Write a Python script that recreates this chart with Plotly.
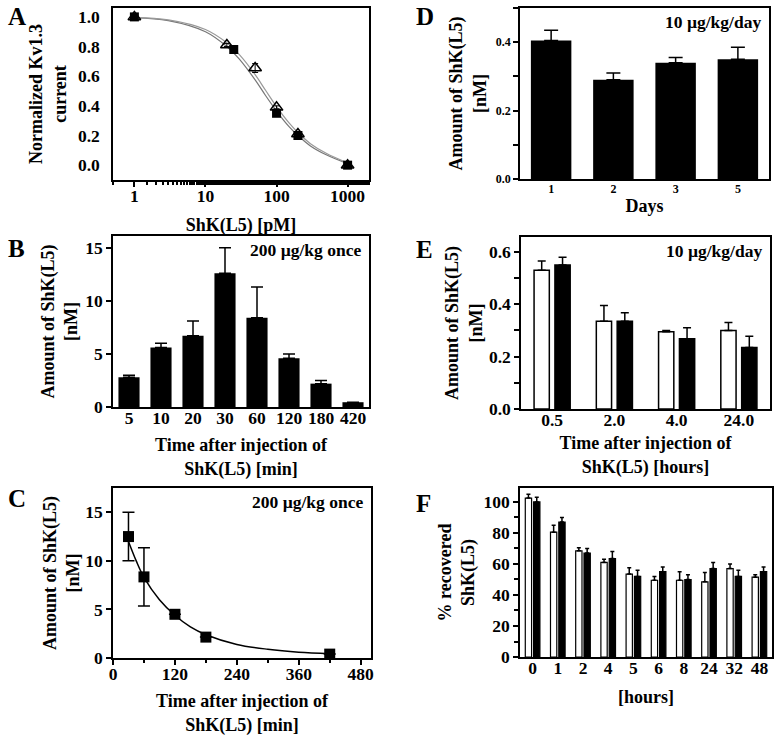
import plotly.graph_objects as go

FONT = "Liberation Serif"

# panel A: concentration-response
a_conc_sq = [1, 25, 100, 200, 1000]
a_resp_sq = [1.0, 0.78, 0.35, 0.20, 0.0]
a_err_sq = [0.0, 0.02, 0.02, 0.01, 0.0]
a_conc_tri = [1, 20, 50, 100, 200, 1000]
a_resp_tri = [1.0, 0.81, 0.655, 0.39, 0.21, 0.0]
a_err_tri = [0.0, 0.01, 0.03, 0.01, 0.01, 0.0]
a_fit_x = [1, 3, 10, 20, 30, 50, 70, 100, 150, 200, 300, 500, 1000]
a_fit1_y = [0.993, 0.975, 0.90, 0.80, 0.715, 0.575, 0.47, 0.365, 0.26, 0.20, 0.13, 0.07, 0.01]
a_fit2_y = [0.995, 0.98, 0.915, 0.825, 0.745, 0.61, 0.505, 0.395, 0.285, 0.22, 0.145, 0.08, 0.015]

# panel B: 200 ug/kg once, bars
b_times = ["5", "10", "20", "30", "60", "120", "180", "420"]
b_mean = [2.8, 5.6, 6.7, 12.6, 8.4, 4.6, 2.2, 0.45]
b_err = [0.2, 0.4, 1.4, 2.4, 2.9, 0.4, 0.3, 0.0]

# panel C: decay
c_time = [30, 60, 120, 180, 420]
c_mean = [12.5, 8.35, 4.5, 2.15, 0.4]
c_err = [2.5, 3.0, 0.0, 0.0, 0.0]
c_fit_x = [30, 45, 60, 90, 120, 150, 180, 240, 300, 360, 420]
c_fit_y = [12.0, 10.0, 8.3, 6.0, 4.4, 3.2, 2.4, 1.4, 0.9, 0.6, 0.45]

# panel D: 10 ug/kg/day by day
d_days = ["1", "2", "3", "5"]
d_mean = [0.405, 0.29, 0.34, 0.35]
d_err = [0.03, 0.02, 0.015, 0.035]

# panel E: 10 ug/kg/day by hours
e_hours = ["0.5", "2.0", "4.0", "24.0"]
e_open = [0.53, 0.335, 0.295, 0.30]
e_open_err = [0.035, 0.06, 0.005, 0.03]
e_filled = [0.55, 0.335, 0.268, 0.235]
e_filled_err = [0.03, 0.033, 0.042, 0.043]

# panel F: % recovered
f_hours = ["0", "1", "2", "4", "5", "6", "8", "24", "32", "48"]
f_open = [102.5, 80.5, 68.5, 61, 53.5, 49.5, 49.5, 48.5, 57, 51.5]
f_open_err = [2.5, 4.5, 2, 2, 4, 2.5, 5.5, 6, 3, 1.5]
f_filled = [100, 87, 67, 63.5, 52, 55, 50, 57, 52, 55]
f_filled_err = [3, 3, 3, 4.5, 4, 3, 3, 4, 4, 3]

W, H = 784, 738
TICK = 17.5
TITLE = 18


def px_x(a, b):
    return [a / W, b / W]


def px_y(top, bottom):
    return [1 - bottom / H, 1 - top / H]


def bold(size):
    return dict(family=FONT, size=size, color="black", weight="bold")


def axis(**kw):
    base = dict(showline=True, linecolor="black", linewidth=1.5, mirror=True, automargin=False,
                ticks="outside", ticklen=5, tickwidth=1.5, tickcolor="black",
                showgrid=False, zeroline=False, tickfont=bold(TICK),
                title=dict(font=bold(TITLE)))
    base.update(kw)
    return base


def xaxis(**kw):
    kw.setdefault("ticklabelstandoff", -6)
    return axis(**kw)


def title(text, standoff):
    return dict(text=text, font=bold(TITLE), standoff=standoff)


def up_err(err, width=4):
    return dict(type="data", symmetric=False, array=err, arrayminus=[0] * len(err),
                color="black", thickness=1.5, width=width)


fig = go.Figure()

# A
fig.add_trace(go.Scatter(x=a_fit_x, y=a_fit1_y, mode="lines", line=dict(color="#777", width=1.2, shape="spline"),
                         xaxis="x", yaxis="y"))
fig.add_trace(go.Scatter(x=a_fit_x, y=a_fit2_y, mode="lines", line=dict(color="#999", width=1.2, shape="spline"),
                         xaxis="x", yaxis="y"))
fig.add_trace(go.Scatter(x=a_conc_sq, y=a_resp_sq, mode="markers",
                         marker=dict(symbol="square", size=9, color="black"),
                         error_y=dict(type="data", array=a_err_sq, color="black", thickness=1, width=3),
                         xaxis="x", yaxis="y"))
fig.add_trace(go.Scatter(x=a_conc_tri, y=a_resp_tri, mode="markers",
                         marker=dict(symbol="triangle-up-open", size=11, color="black", line=dict(width=1.5)),
                         error_y=dict(type="data", array=a_err_tri, color="black", thickness=1, width=3),
                         xaxis="x", yaxis="y"))

# B
fig.add_trace(go.Bar(x=b_times, y=b_mean, width=0.66, marker=dict(color="black", line=dict(width=0)),
                     error_y=up_err(b_err, 6), xaxis="x2", yaxis="y2"))

# C
fig.add_trace(go.Scatter(x=c_fit_x, y=c_fit_y, mode="lines", line=dict(color="black", width=1.5, shape="spline"),
                         xaxis="x3", yaxis="y3"))
fig.add_trace(go.Scatter(x=c_time, y=c_mean, mode="markers",
                         marker=dict(symbol="square", size=11, color="black"),
                         error_y=dict(type="data", array=c_err, color="black", thickness=1.5, width=6),
                         xaxis="x3", yaxis="y3"))

# D
fig.add_trace(go.Bar(x=d_days, y=d_mean, width=0.65, marker=dict(color="black", line=dict(width=0)),
                     error_y=up_err(d_err, 7), xaxis="x4", yaxis="y4"))

# E
fig.add_trace(go.Bar(x=e_hours, y=e_open, width=0.245, offset=-0.29,
                     marker=dict(color="white", line=dict(color="black", width=1.5)),
                     error_y=up_err(e_open_err, 4), xaxis="x5", yaxis="y5"))
fig.add_trace(go.Bar(x=e_hours, y=e_filled, width=0.245, offset=0.045,
                     marker=dict(color="black", line=dict(color="black", width=1.5)),
                     error_y=up_err(e_filled_err, 4), xaxis="x5", yaxis="y5"))

# F
fig.add_trace(go.Bar(x=f_hours, y=f_open, width=0.25, offset=-0.29,
                     marker=dict(color="white", line=dict(color="black", width=1.2)),
                     error_y=up_err(f_open_err, 2), xaxis="x6", yaxis="y6"))
fig.add_trace(go.Bar(x=f_hours, y=f_filled, width=0.25, offset=0.04,
                     marker=dict(color="black", line=dict(color="black", width=1.2)),
                     error_y=up_err(f_filled_err, 2), xaxis="x6", yaxis="y6"))

amount_title = "Amount of ShK(L5)<br>[nM]"
time_min = "Time after injection of<br>ShK(L5) [min]"

fig.update_layout(
    width=W, height=H, margin=dict(l=0, r=0, t=0, b=0),
    paper_bgcolor="white", plot_bgcolor="white",
    showlegend=False, barmode="overlay",
    font=bold(TITLE),
    xaxis=xaxis(domain=px_x(113, 369), anchor="y", type="log", range=[-0.301, 3.301],
                tickvals=[1, 10, 100, 1000], ticktext=["1", "10", "100", "1000"],
                minor=dict(ticks="outside", ticklen=3, tickcolor="black"),
                title=title("ShK(L5) [pM]", 14)),
    yaxis=axis(domain=px_y(8, 180), anchor="x", range=[-0.1, 1.06], ticks="", ticklabelstandoff=8,
               tickvals=[0, 0.2, 0.4, 0.6, 0.8, 1.0], tickformat=".1f",
               title=title("Normalized Kv1.3<br>current", 7)),
    xaxis2=xaxis(domain=px_x(113, 369), anchor="y2", type="category", range=[-0.5, 7.5],
                 ticks="", title=title(time_min, 12)),
    yaxis2=axis(domain=px_y(236, 407), anchor="x2", range=[0, 16.1], tickvals=[0, 5, 10, 15],
                title=title(amount_title, 3)),
    xaxis3=xaxis(domain=px_x(113, 371), anchor="y3", range=[0, 500], tickvals=[0, 120, 240, 360, 480],
                  minor=dict(ticks="outside", ticklen=3, dtick=60, tick0=0, tickcolor="black"),
                  title=title(time_min, 12)),
    yaxis3=axis(domain=px_y(488, 658), anchor="x3", range=[0, 17.5], tickvals=[0, 5, 10, 15],
                title=title(amount_title, 1)),
    xaxis4=xaxis(domain=px_x(520, 769), anchor="y4", type="category", range=[-0.5, 3.5],
                 tickfont=bold(12), ticks="", ticklabelstandoff=-2, title=title("Days", 4)),
    yaxis4=axis(domain=px_y(8, 179), anchor="x4", range=[0, 0.5], tickvals=[0, 0.2, 0.4], tickformat=".1f",
                tickfont=bold(12),
                minor=dict(ticks="outside", ticklen=5, dtick=0.1, tick0=0, tickcolor="black"),
                title=title(amount_title, 5)),
    xaxis5=xaxis(domain=px_x(521, 770), anchor="y5", type="category", range=[-0.5, 3.5],
                 ticks="", title=title("Time after injection of<br>ShK(L5) [hours]", 8)),
    yaxis5=axis(domain=px_y(237, 409), anchor="x5", range=[0, 0.657], tickvals=[0, 0.2, 0.4, 0.6],
                tickformat=".1f",
                minor=dict(ticks="outside", ticklen=5, dtick=0.1, tick0=0, tickcolor="black"),
                title=title(amount_title, 2)),
    xaxis6=xaxis(domain=px_x(520, 772), anchor="y6", type="category", range=[-0.5, 9.5],
                 ticks="", title=title("[hours]", 14)),
    yaxis6=axis(domain=px_y(488, 657), anchor="x6", range=[0, 109], tickvals=[0, 20, 40, 60, 80, 100],
                minor=dict(ticks="outside", ticklen=4, dtick=10, tick0=0, tickcolor="black"),
                title=title("% recovered<br>ShK(L5)", 4)),
)

letters = [("A", 6, 17), ("B", 6, 248), ("C", 6, 498), ("D", 414, 16), ("E", 414, 250), ("F", 414, 503)]
for txt, x, y in letters:
    fig.add_annotation(text=txt, x=x / W, y=1 - y / H, xref="paper", yref="paper",
                       xanchor="left", yanchor="middle", showarrow=False, font=bold(25))

labels = [("200 µg/kg once", "x2 domain", "y2 domain"),
          ("200 µg/kg once", "x3 domain", "y3 domain"),
          ("10 µg/kg/day", "x4 domain", "y4 domain"),
          ("10 µg/kg/day", "x5 domain", "y5 domain")]
for txt, xr, yr in labels:
    fig.add_annotation(text=txt, x=1, y=1, xshift=-6, yshift=-14, xref=xr, yref=yr,
                       xanchor="right", yanchor="middle", showarrow=False, font=bold(17.5))

fig.write_html("out.html", post_script="document.body.style.margin='0';",
               config={"displayModeBar": False})
